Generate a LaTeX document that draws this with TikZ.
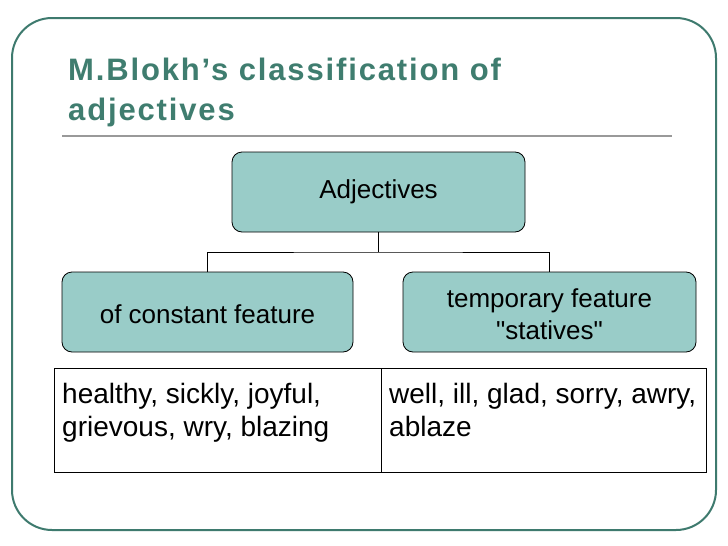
\documentclass[tikz,border=0pt]{standalone}
\usepackage{fontspec}
\setmainfont{Liberation Sans}
\begin{document}
\begin{tikzpicture}[x=1pt,y=-1pt,
  box/.style={draw=black,fill=boxc,rounded corners=10pt,line width=0.8pt},
  lbl/.style={font=\fontsize{26}{32}\selectfont,align=center},
  cell/.style={font=\fontsize{28}{33}\selectfont,align=left,anchor=north west}]
\definecolor{boxc}{HTML}{99CCC8}
\definecolor{ttl}{HTML}{3F7D6F}
\definecolor{frm}{HTML}{3E7A6E}
\useasboundingbox (0,0) rectangle (728,546);
\fill[white] (0,0) rectangle (728,546);
\draw[frm,line width=2pt,rounded corners=40pt] (12,18) rectangle (716,530);
\node[anchor=north west,text=ttl,font=\fontsize{31}{40}\selectfont\bfseries\addfontfeature{LetterSpace=6},align=left,inner sep=0] (title) at (68,58) {M.Blokh’s classification of\\adjectives};
\draw[gray!80,line width=2pt] (62,136) coordinate (r1) -- (672,136) coordinate (r2);
\draw[box] (232,152) rectangle (525,232);
\node[lbl] (adj) at (378.5,192) {Adjectives};
\draw[box] (62,272) rectangle (353,352);
\node[lbl] (left) at (207.5,314) {of constant feature};
\draw[box] (403,272) rectangle (696,352);
\node[lbl] (right) at (549.5,314) {temporary feature\\\textquotedbl statives\textquotedbl};
\coordinate (a) at (378,232);
\coordinate (m) at (378,252);
\coordinate (l) at (207,272);
\coordinate (rr) at (549,272);
\draw[line width=0.9pt] (a) -- (m) (l) |- (m) -| (rr);
\draw[line width=0.9pt] (54,368) rectangle (706,472);
\draw[line width=0.9pt] (381,368) -- (381,472);
\node[cell,inner sep=0] (c1) at (62,383) {healthy, sickly, joyful,\\grievous, wry, blazing};
\node[cell,inner sep=0] (c2) at (389,383) {well, ill, glad, sorry, awry,\\ablaze};
\end{tikzpicture}
\end{document}
